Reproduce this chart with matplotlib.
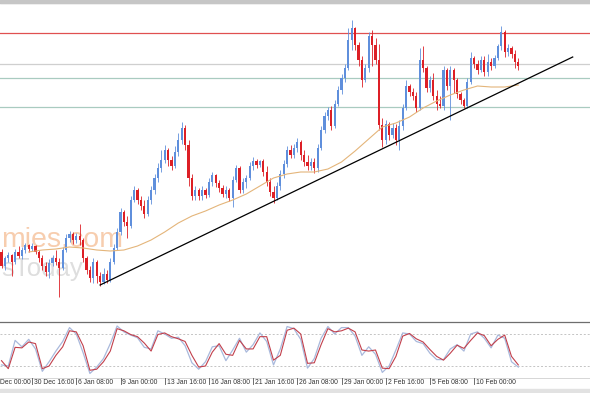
import numpy as np
import matplotlib.pyplot as plt
from matplotlib import transforms
from matplotlib.patches import Rectangle
from matplotlib.lines import Line2D

W, H = 590, 393

# prix (unités arbitraires) ; l'ouverture de chaque bougie = clôture précédente
first_open = 68
closes = [54, 62, 65, 58, 68, 64, 70, 75, 71, 74,
          68, 62, 54, 48, 57, 62, 58, 52, 70, 82,
          86, 80, 84, 80, 62, 50, 42, 58, 44, 38,
          46, 40, 58, 72, 88, 108, 98, 94, 120, 130,
          120, 114, 106, 120, 130, 142, 152, 160, 170, 160,
          154, 168, 180, 192, 175, 142, 124, 130, 124, 130,
          125, 138, 145, 137, 132, 126, 130, 122, 140, 152,
          130, 138, 142, 154, 159, 155, 159, 148, 138, 128,
          122, 134, 146, 156, 170, 165, 172, 178, 165, 158,
          154, 158, 152, 172, 190, 204, 210, 194, 216, 230,
          242, 252, 280, 292, 275, 260, 240, 252, 284, 275,
          260, 195, 180, 196, 185, 192, 180, 194, 212, 234,
          228, 224, 212, 260, 252, 232, 240, 224, 216, 214,
          250, 234, 250, 240, 226, 220, 214, 238, 262, 256,
          250, 260, 248, 258, 254, 262, 274, 288, 268, 272,
          266, 258, 254]
highs = [71, 64, 68, 66, 71, 74, 73, 77, 76, 77,
         75, 70, 65, 58, 61, 65, 70, 62, 73, 86,
         89, 88, 87, 96, 82, 64, 54, 62, 60, 48,
         52, 50, 62, 76, 92, 112, 110, 104, 124, 134,
         132, 124, 120, 124, 134, 146, 157, 170, 175, 172,
         164, 174, 187, 198, 195, 180, 146, 134, 132, 134,
         132, 142, 148, 146, 140, 135, 134, 132, 144, 155,
         154, 142, 145, 158, 163, 161, 160, 161, 154, 142,
         134, 138, 150, 160, 174, 175, 176, 182, 180, 170,
         165, 162, 162, 176, 194, 208, 213, 214, 220, 234,
         246, 256, 292, 300, 293, 278, 264, 256, 288, 290,
         282, 276, 202, 200, 198, 197, 196, 200, 216, 240,
         236, 232, 228, 272, 274, 254, 244, 247, 230, 224,
         254, 252, 254, 252, 242, 228, 222, 242, 268, 264,
         260, 264, 264, 266, 262, 265, 276, 294, 290, 276,
         274, 270, 262]
lows = [52, 50, 58, 44, 56, 62, 61, 67, 68, 69,
        66, 58, 50, 44, 42, 54, 55, 23, 50, 68,
        78, 76, 77, 75, 58, 46, 38, 37, 37, 34,
        36, 37, 38, 56, 70, 85, 94, 82, 92, 118,
        116, 110, 102, 104, 116, 126, 138, 148, 157, 154,
        150, 152, 164, 176, 170, 134, 120, 120, 120, 120,
        122, 123, 134, 133, 128, 123, 122, 119, 113, 138,
        127, 127, 132, 140, 150, 152, 153, 144, 134, 124,
        117, 120, 130, 142, 153, 162, 162, 168, 160, 154,
        150, 150, 147, 148, 170, 187, 200, 190, 192, 214,
        226, 238, 250, 270, 270, 254, 233, 238, 248, 254,
        256, 190, 173, 176, 180, 182, 175, 170, 190, 210,
        224, 220, 208, 210, 248, 228, 228, 220, 210, 212,
        210, 230, 200, 227, 222, 216, 212, 212, 236, 252,
        246, 248, 244, 244, 250, 252, 260, 270, 263, 264,
        262, 252, 250]

# moyenne mobile, une valeur toutes les 4 bougies à partir de la 8e
ma_start, ma_step = 8, 4
ma_values = [68, 70, 71, 73, 72, 70, 69, 70, 74, 80, 88, 97, 104, 109, 115, 120,
             126, 134, 142, 146, 148, 148, 151, 158, 169, 181, 193, 197, 203, 212,
             219, 225, 230, 234, 233, 233, 235]

# stochastique, une valeur toutes les 2 bougies
stoch_step = 2
stoch_main = [22, 20, 68, 56, 70, 52, 10, 28, 48, 66,
              92, 80, 45, 6, 18, 34, 62, 95, 84, 78,
              73, 55, 52, 86, 80, 72, 74, 58, 26, 14,
              28, 56, 58, 30, 50, 72, 46, 60, 82, 66,
              22, 52, 94, 90, 70, 16, 34, 72, 94, 80,
              92, 92, 76, 40, 56, 42, 8, 20, 50, 82,
              80, 66, 62, 44, 32, 32, 52, 60, 48, 80,
              84, 72, 54, 78, 72, 28, 18]
stoch_signal = [30, 15, 55, 54, 65, 62, 15, 20, 40, 56,
                86, 84, 58, 12, 14, 28, 48, 90, 86, 79,
                75, 63, 48, 79, 82, 75, 71, 66, 40, 18,
                20, 46, 62, 42, 40, 68, 52, 52, 75, 75,
                31, 40, 87, 91, 80, 25, 26, 60, 90, 84,
                86, 91, 84, 50, 48, 50, 16, 15, 38, 76,
                81, 71, 65, 51, 38, 31, 44, 59, 53, 68,
                82, 77, 58, 70, 78, 38, 22]
stoch_levels = [80, 20]

# lignes horizontales et ligne de tendance
level_red = 287
level_gray = 256
levels_green = [242, 213]
trend_bars = [29, 168]
trend_prices = [35, 263]

# la première étiquette est coupée par le bord gauche dans l'original
tick_bars = [-4, 9, 22, 35, 48, 61, 74, 87, 100, 113, 126, 139]
tick_labels = ['Dec 00:00', '30 Dec 16:00', '6 Jan 08:00', '9 Jan 00:00',
               '13 Jan 16:00', '16 Jan 08:00', '21 Jan 16:00', '26 Jan 08:00',
               '29 Jan 00:00', '2 Feb 16:00', '5 Feb 08:00', '10 Feb 00:00']

BLUE = '#5f8fdc'
RED = '#dd1f26'

# largeur d'une bougie = 3.4 px, première bougie à 1.5 px
bar_px, x0_px = 3.4, 1.5
xlim = (-x0_px / bar_px, (W - x0_px) / bar_px)

fig = plt.figure(figsize=(W / 100, H / 100), dpi=100)
fig.patch.set_facecolor('white')

def fy(px):
    return 1 - px / H

ax = fig.add_axes([0, fy(320), 1, (320 - 3) / H])
ax2 = fig.add_axes([0, fy(378), 1, (378 - 322) / H])
for a in (ax, ax2):
    a.set_xlim(*xlim)
    a.set_xticks([])
    a.set_yticks([])
    for s in a.spines.values():
        s.set_visible(False)
ax.set_ylim(0, 317)
ax2.set_ylim(-2.5, 102.5)

# filigrane
ax.text(1 / W, fy(247), 'mies.com', transform=fig.transFigure, fontsize=20.5,
        family='Liberation Sans', color='#f7cdae', va='baseline', ha='left', zorder=0.5)
ax.text(1 / W, fy(276), 'sToday', transform=fig.transFigure, fontsize=18.5,
        family='Liberation Sans', color='#dedede', va='baseline', ha='left', zorder=0.5)

# niveaux
ax.axhline(level_red, color='#e05050', lw=0.9, zorder=1)
ax.axhline(level_gray, color='#cfcfcf', lw=0.9, zorder=1)
for lv in levels_green:
    ax.axhline(lv, color='#a9cbc0', lw=0.9, zorder=1)

# bougies
c = np.array(closes, float)
h = np.array(highs, float)
l = np.array(lows, float)
o = np.concatenate([[first_open], c[:-1]])
idx = np.arange(len(c))
up = c >= o
cols = np.where(up, BLUE, RED)
ax.vlines(idx, l, h, colors=cols, lw=0.6, zorder=2)
body_lo = np.minimum(o, c)
body_h = np.maximum(np.abs(c - o), 0.8)
ax.bar(idx, body_h, bottom=body_lo, width=0.62, color=cols, linewidth=0, zorder=3)

# moyenne mobile
ma_x = np.arange(ma_start, ma_start + ma_step * len(ma_values), ma_step)
ax.plot(ma_x, ma_values, color='#e4b57a', lw=0.8, zorder=4)

# tendance
ax.plot(trend_bars, trend_prices, color='black', lw=0.9, zorder=5)

# stochastique
st_x = np.arange(0, stoch_step * len(stoch_main), stoch_step)
for lv in stoch_levels:
    ax2.axhline(lv, color='#c4c4c4', lw=0.7, ls=(0, (2, 2)))
ax2.plot(st_x, stoch_main, color='#a9b9dc', lw=0.9)
ax2.plot(st_x, stoch_signal, color='#c2404c', lw=0.8)

# cadres
fig.patches.append(Rectangle((0, fy(3)), 1, 3 / H, transform=fig.transFigure,
                             color='#c6c6c6', zorder=10))
fig.add_artist(Line2D([0, 1], [fy(3), fy(3)], color='#8c8c8c', lw=0.8))
fig.add_artist(Line2D([0, 1], [fy(321.5), fy(321.5)], color='#6e6e6e', lw=0.9))
fig.add_artist(Line2D([0, 1], [fy(377.5), fy(377.5)], color='#d0d0d0', lw=0.6))
fig.patches.append(Rectangle((0, 0), 1, 4 / H, transform=fig.transFigure,
                             color='#e2e2e2', zorder=10))

# axe du temps
tr = transforms.blended_transform_factory(ax2.transData, fig.transFigure)
for b, lab in zip(tick_bars, tick_labels):
    if b >= 0:
        fig.add_artist(Line2D([b, b], [fy(378), fy(384)], transform=tr,
                              color='#555555', lw=0.6))
        fig.text(b + 2 / bar_px, fy(382.5), lab, transform=tr, fontsize=4.9,
                 family='Liberation Sans', color='#333333', ha='left', va='center')
    else:
        fig.text(0.5 / W, fy(382.5), lab, fontsize=4.9,
                 family='Liberation Sans', color='#333333', ha='left', va='center')

fig.savefig('out.png', dpi=100)
